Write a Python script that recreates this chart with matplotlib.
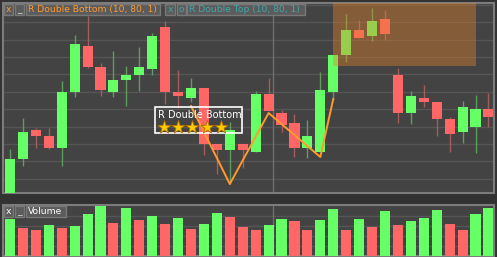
import matplotlib.pyplot as plt
from matplotlib.patches import Rectangle
import numpy as np

# candle data (open, high, low, close)
opens  = [-5, 34, 63, 57, 45, 101, 147, 126, 101, 113, 118, 124, 166, 101, 95, 105, 49, 43, 49,
          41, 99, 80, 70, 45, 41, 101, 138, 163, 157, 174, 118, 80, 95, 91, 74, 61, 66, 84]
highs  = [44, 75, 65, 65, 112, 158, 177, 130, 142, 127, 146, 160, 172, 123, 115, 105, 49, 71, 49,
          102, 115, 83, 79, 73, 121, 138, 179, 173, 185, 183, 125, 102, 108, 91, 76, 92, 98, 100]
lows   = [-8, 27, 45, 44, 27, 96, 125, 97, 96, 87, 102, 118, 89, 85, 91, 38, 19, 9, 25,
          41, 82, 61, 36, 35, 41, 93, 131, 155, 152, 153, 70, 69, 86, 57, 41, 50, 40, 66]
closes = [34, 61, 57, 45, 101, 149, 126, 103, 113, 118, 126, 157, 101, 97, 105, 49, 43, 63, 43,
          99, 82, 68, 45, 57, 103, 138, 163, 155, 172, 159, 80, 97, 91, 74, 59, 86, 84, 76]
volumes = [37, 28, 26, 31, 28, 30, 42, 50, 33, 48, 36, 40, 32, 38, 27, 32, 43, 39, 29,
           26, 31, 37, 35, 26, 36, 47, 26, 37, 29, 45, 31, 35, 38, 46, 32, 26, 42, 48]
vol_up = [1, 0, 0, 1, 0, 1, 1, 1, 0, 1, 0, 1, 0, 1, 0, 1, 1, 0, 0,
          0, 1, 1, 0, 0, 1, 1, 0, 1, 0, 1, 0, 1, 1, 1, 0, 0, 1, 1]

# double bottom pattern pivots (bar index, price)
pattern_x = [14, 17, 20, 24, 25]
pattern_y = [87, 9, 80, 36, 94]
# double top target zone
zone_x = (25.0, 36.0)
zone_y = (127, 200)

UP, DN = '#66ff66', '#ff6666'
UP_W, DN_W = '#5c9e5c', '#a65c5c'
BG, PANEL, GRID, FRAME = '#323232', '#434343', '#555555', '#7c7c7c'

fig = plt.figure(figsize=(4.97, 2.57), dpi=100, facecolor=BG)
ax = fig.add_axes([3/497, 64/257, 491/497, 190/257], facecolor=PANEL)
axv = fig.add_axes([3/497, 1/257, 491/497, 51/257], facecolor=PANEL)

x = np.arange(len(opens))
o, h, l, c = map(np.array, (opens, highs, lows, closes))
up = c >= o

ax.vlines(x[up], l[up], h[up], color=UP_W, lw=1, zorder=2)
ax.vlines(x[~up], l[~up], h[~up], color=DN_W, lw=1, zorder=2)
ax.bar(x, np.abs(c - o), bottom=np.minimum(o, c), width=0.78,
       color=np.where(up, UP, DN), zorder=3)

for yy in np.arange(14.3, 190, 17.37):
    ax.axhline(yy, color=GRID, lw=1, zorder=1)
ax.axvline(20.35, color='#6e6e6e', lw=1, zorder=1)

ax.add_patch(Rectangle((zone_x[0], zone_y[0]), zone_x[1] - zone_x[0], zone_y[1] - zone_y[0],
                       facecolor=(0.9, 0.51, 0.16), alpha=0.4, lw=0, zorder=4))
ax.plot(pattern_x, pattern_y, color='#ff9a2e', lw=1.4, zorder=5)

# pattern label
ax.add_patch(Rectangle((11.2, 60), 6.75, 26, facecolor='none', edgecolor='white', lw=1.2, zorder=6))
ax.text(11.45, 83, 'R Double Bottom', color='white', fontsize=7, va='top', ha='left', zorder=7)
ax.scatter(np.linspace(11.9, 16.3, 5), [66.5] * 5, marker='*', s=100, color='#ffcc00',
           edgecolors='#b07000', linewidths=0.6, zorder=7)

ax.set_xlim(-0.54, 37.43)
ax.set_ylim(0, 190)

axv.bar(x, volumes, width=0.78, color=[UP if v else DN for v in vol_up], zorder=3)
for yy in (10, 20, 30, 40):
    axv.axhline(yy, color=GRID, lw=1, zorder=1)
axv.axvline(20.35, color='#6e6e6e', lw=1, zorder=1)
axv.set_xlim(-0.54, 37.43)
axv.set_ylim(0, 51)

for a in (ax, axv):
    a.set_xticks([])
    a.set_yticks([])
    for s in a.spines.values():
        s.set_color(FRAME)
        s.set_linewidth(1.5)


def tag(x0, x1, y0, y1, s, color, center=True):
    # header box in pixel coordinates (top-left origin)
    fig.patches.append(Rectangle((x0 / 497, 1 - y1 / 257), (x1 - x0) / 497, (y1 - y0) / 257,
                                 transform=fig.transFigure, fc='#5c5c5c', ec='#787878', lw=1))
    tx = (x0 + x1) / 2 if center else x0 + 2
    fig.text(tx / 497, 1 - (y0 + y1) / 2 / 257, s, color=color, fontsize=6.6,
             ha='center' if center else 'left', va='center')


tag(4, 13, 4, 15, 'x', '#ff9a2e')
tag(15, 24, 4, 15, '_', '#dddddd')
tag(26, 160, 4, 15, 'R Double Bottom (10, 80, 1)', '#ff9a2e', center=False)
tag(165, 175, 4, 15, 'x', '#3fa7a7')
tag(177, 186, 4, 15, 'o', '#3fa7a7')
tag(187, 305, 4, 15, 'R Double Top (10, 80, 1)', '#3fa7a7', center=False)
tag(4, 13, 206, 217, 'x', '#ffffff')
tag(15, 24, 206, 217, '_', '#dddddd')
tag(26, 66, 206, 217, 'Volume', '#ffffff', center=False)

fig.savefig('out.png', dpi=100, facecolor=BG)
